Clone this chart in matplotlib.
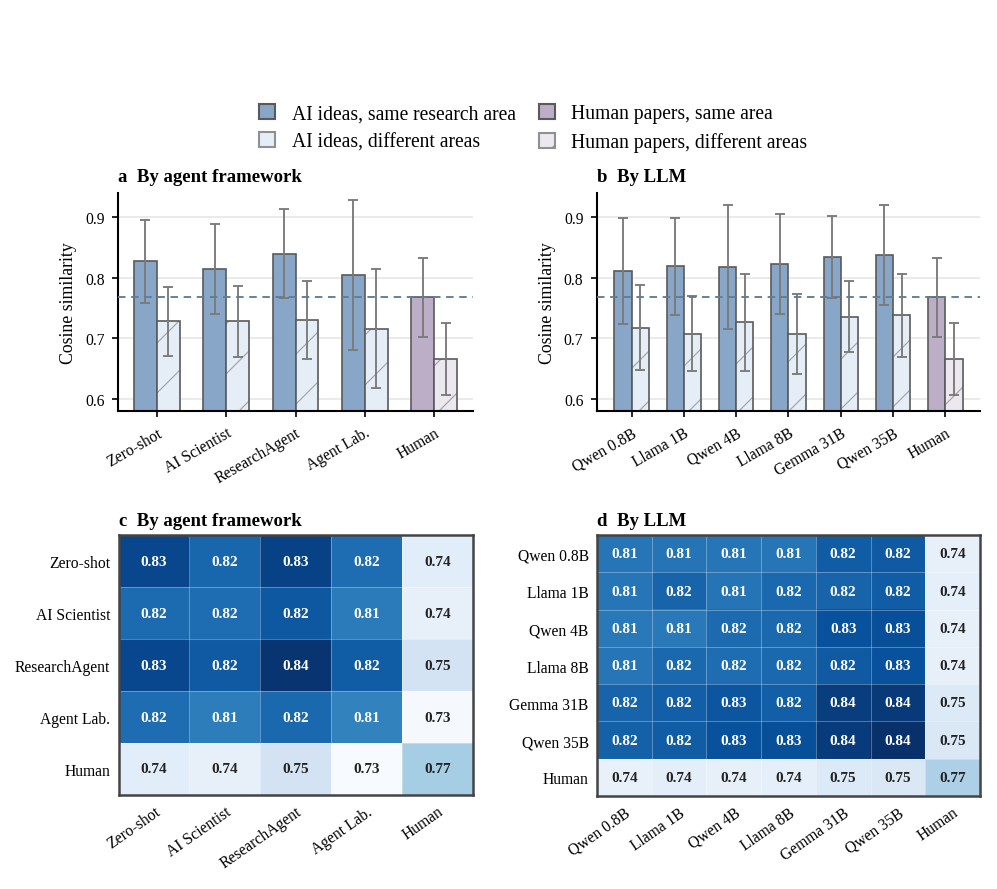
import numpy as np
import matplotlib
matplotlib.use("Agg")
import matplotlib.pyplot as plt
from matplotlib.patches import Patch

plt.rcParams['font.family'] = ['Liberation Serif', 'DejaVu Serif']
plt.rcParams['hatch.linewidth'] = 0.6

# ---- data ----
frameworks = ['Zero-shot', 'AI Scientist', 'ResearchAgent', 'Agent Lab.', 'Human']
fw_same = [0.827, 0.815, 0.840, 0.805, 0.768]
fw_same_err = [0.068, 0.074, 0.074, 0.124, 0.065]
fw_diff = [0.728, 0.728, 0.730, 0.716, 0.666]
fw_diff_err = [0.057, 0.059, 0.064, 0.098, 0.060]

llms = ['Qwen 0.8B', 'Llama 1B', 'Qwen 4B', 'Llama 8B', 'Gemma 31B', 'Qwen 35B', 'Human']
llm_same = [0.811, 0.819, 0.818, 0.823, 0.834, 0.838, 0.768]
llm_same_err = [0.088, 0.080, 0.102, 0.082, 0.068, 0.082, 0.065]
llm_diff = [0.718, 0.708, 0.727, 0.708, 0.736, 0.738, 0.666]
llm_diff_err = [0.070, 0.062, 0.080, 0.066, 0.058, 0.068, 0.060]

human_baseline = 0.768

fw_matrix = [
    [0.832, 0.819, 0.834, 0.816, 0.744],
    [0.817, 0.816, 0.825, 0.810, 0.741],
    [0.832, 0.824, 0.840, 0.823, 0.752],
    [0.816, 0.809, 0.818, 0.807, 0.733],
    [0.744, 0.741, 0.752, 0.732, 0.771],
]
llm_matrix = [
    [0.812, 0.813, 0.812, 0.812, 0.823, 0.824, 0.741],
    [0.812, 0.820, 0.813, 0.818, 0.820, 0.823, 0.742],
    [0.811, 0.811, 0.817, 0.818, 0.828, 0.829, 0.741],
    [0.812, 0.818, 0.816, 0.818, 0.824, 0.828, 0.741],
    [0.820, 0.822, 0.826, 0.822, 0.836, 0.838, 0.747],
    [0.821, 0.823, 0.828, 0.829, 0.837, 0.842, 0.748],
    [0.740, 0.743, 0.741, 0.742, 0.747, 0.748, 0.768],
]

# ---- style ----
AI_SAME = '#87a6c8'
AI_DIFF = '#e5eef7'
HU_SAME = '#bbaec6'
HU_DIFF = '#ece8f0'
EDGE = '#5a5a5a'
ERR = '#7a7a7a'

fig = plt.figure(figsize=(6.647, 5.933), dpi=150)
ax_a = fig.add_axes([0.1184, 0.537, 0.356, 0.245])
ax_b = fig.add_axes([0.5988, 0.537, 0.384, 0.245])
ax_c = fig.add_axes([0.119, 0.1056, 0.355, 0.292])
ax_d = fig.add_axes([0.5988, 0.1045, 0.384, 0.293])


def bar_panel(ax, labels, same, same_err, diff, diff_err, title):
    n = len(labels)
    x = np.arange(n)
    w = 0.33
    same_c = [AI_SAME] * (n - 1) + [HU_SAME]
    diff_c = [AI_DIFF] * (n - 1) + [HU_DIFF]
    ax.bar(x - w / 2, same, w, color=same_c, edgecolor=EDGE, linewidth=0.8, zorder=2)
    # hatched fill, then outline on top
    ax.bar(x + w / 2, diff, w, color=diff_c, edgecolor='#a8a8a8', linewidth=0,
           hatch='/', zorder=2)
    ax.bar(x + w / 2, diff, w, fill=False, edgecolor=EDGE, linewidth=0.8, zorder=2)
    ax.errorbar(x - w / 2, same, yerr=same_err, fmt='none', ecolor=ERR,
                elinewidth=0.9, capsize=2.2, capthick=0.9, zorder=3)
    ax.errorbar(x + w / 2, diff, yerr=diff_err, fmt='none', ecolor=ERR,
                elinewidth=0.9, capsize=2.2, capthick=0.9, zorder=3)
    ax.axhline(human_baseline, color='#5f7d96', linestyle=(0, (4, 3)), linewidth=0.9, zorder=4)
    ax.set_ylim(0.58, 0.94)
    ax.set_xlim(-0.56 - (n - 5) * 0.05, n - 1 + 0.56 + (n - 5) * 0.05)
    ax.set_yticks([0.6, 0.7, 0.8, 0.9])
    ax.set_xticks(x)
    ax.set_xticklabels(labels, rotation=30, ha='right', rotation_mode='anchor')
    ax.tick_params(axis='both', labelsize=7.5, length=3, width=0.8)
    ax.yaxis.grid(True, color='#e6e6e6', linewidth=0.8, zorder=0)
    ax.set_axisbelow(True)
    for s in ['top', 'right']:
        ax.spines[s].set_visible(False)
    for s in ['left', 'bottom']:
        ax.spines[s].set_linewidth(1.0)
    ax.set_ylabel('Cosine similarity', fontsize=8.5)
    ax.set_title(title, loc='left', fontsize=9, fontweight='bold', pad=6)


bar_panel(ax_a, frameworks, fw_same, fw_same_err, fw_diff, fw_diff_err,
          'a  By agent framework')
bar_panel(ax_b, llms, llm_same, llm_same_err, llm_diff, llm_diff_err, 'b  By LLM')

# shared colour scale for both heatmaps
hm_min = min(np.min(fw_matrix), np.min(llm_matrix))
hm_max = max(np.max(fw_matrix), np.max(llm_matrix))


def heat_panel(ax, labels, matrix, title):
    m = np.array(matrix)
    n = len(labels)
    ax.imshow(m, cmap='Blues', vmin=hm_min, vmax=hm_max, aspect='auto',
              interpolation='nearest')
    for k in range(1, n):
        ax.axvline(k - 0.5, color='white', linewidth=0.5, alpha=0.3)
        ax.axhline(k - 0.5, color='white', linewidth=0.5, alpha=0.3)
    for i in range(n):
        for j in range(n):
            frac = (m[i, j] - hm_min) / (hm_max - hm_min)
            ax.text(j, i, f'{m[i, j]:.2f}', ha='center', va='center',
                    fontsize=7.3, fontweight='bold',
                    color='white' if frac > 0.5 else '#222222')
    ax.set_xticks(range(n))
    ax.set_yticks(range(n))
    ax.set_xticklabels(labels, rotation=35, ha='right', rotation_mode='anchor')
    ax.set_yticklabels(labels)
    ax.tick_params(axis='both', labelsize=7.5, length=0, pad=4)
    for s in ax.spines.values():
        s.set_linewidth(1.2)
        s.set_color('#444444')
    ax.set_title(title, loc='left', fontsize=9, fontweight='bold', pad=5)


heat_panel(ax_c, frameworks, fw_matrix, 'c  By agent framework')
heat_panel(ax_d, llms, llm_matrix, 'd  By LLM')

handles = [
    Patch(facecolor=AI_SAME, edgecolor=EDGE, linewidth=1.0, label='AI ideas, same research area'),
    Patch(facecolor=AI_DIFF, edgecolor='#909090', linewidth=1.0, label='AI ideas, different areas'),
    Patch(facecolor=HU_SAME, edgecolor=EDGE, linewidth=1.0, label='Human papers, same area'),
    Patch(facecolor=HU_DIFF, edgecolor='#909090', linewidth=1.0, hatch='/',
          label='Human papers, different areas'),
]
fig.legend(handles=handles, loc='center', bbox_to_anchor=(0.535, 0.855), ncol=2,
           frameon=False, fontsize=9.4, handlelength=0.8, handleheight=0.8,
           columnspacing=1.2, labelspacing=0.45, handletextpad=0.85)

fig.savefig('out.png', dpi=150)
